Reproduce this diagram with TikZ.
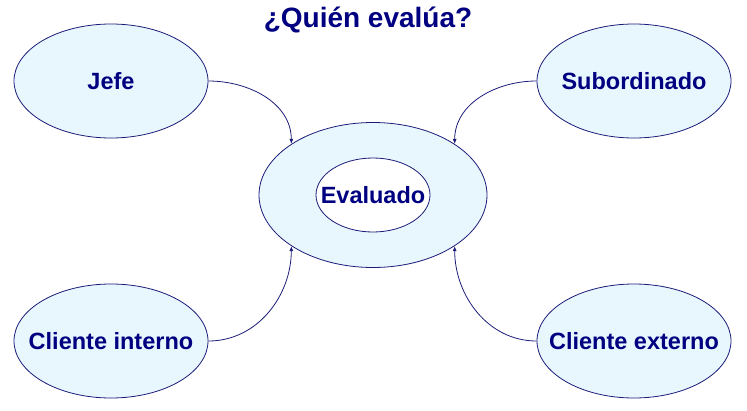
\documentclass[tikz,border=0pt]{standalone}
\usepackage{fontspec}
\setmainfont{Liberation Sans}
\usepackage{tikz}
\usetikzlibrary{shapes.geometric, arrows.meta}

\definecolor{navy}{HTML}{000080}
\definecolor{edgeblue}{HTML}{1C1C78}
\definecolor{paleblue}{HTML}{E8F6FE}

% label with no width, so the ellipse keeps its size
\newcommand{\lbl}[1]{\makebox[0pt][c]{#1}}

\tikzset{
  role/.style={ellipse, draw=edgeblue, line width=0.8pt, fill=paleblue,
    minimum width=194pt, minimum height=114pt, inner sep=0pt,
    text=navy, font=\fontsize{23.5}{28}\selectfont\bfseries},
  link/.style={draw=edgeblue, line width=0.8pt, -{Latex[length=5pt,width=4pt]}}
}

\begin{document}
\begin{tikzpicture}[x=1pt, y=-1pt]
\useasboundingbox (0,0) rectangle (747,410);

% Title
\node[text=navy, font=\fontsize{28}{32}\selectfont\bfseries] (title) at (368,20) {¿Quién evalúa?};

% Evaluado in the middle (ring)
\node[role, minimum width=228pt, minimum height=145pt] (outer) at (373,195) {};
\node[role, fill=white, minimum width=114pt, minimum height=74pt] (evaluado) at (373,195) {\lbl{Evaluado}};

% Who evaluates
\node[role] (jefe) at (111,81) {\lbl{Jefe}};
\node[role] (subordinado) at (634,81) {\lbl{Subordinado}};
\node[role] (interno) at (111,341) {\lbl{Cliente interno}};
\node[role] (externo) at (634,341) {\lbl{Cliente externo}};

% Arrows into the ring
\draw[link] (jefe.east) to[out=0, in=90] (outer.148);
\draw[link] (subordinado.west) to[out=180, in=90] (outer.32);
\draw[link] (interno.east) to[out=0, in=-90] (outer.212);
\draw[link] (externo.west) to[out=180, in=-90] (outer.-32);
\end{tikzpicture}
\end{document}
